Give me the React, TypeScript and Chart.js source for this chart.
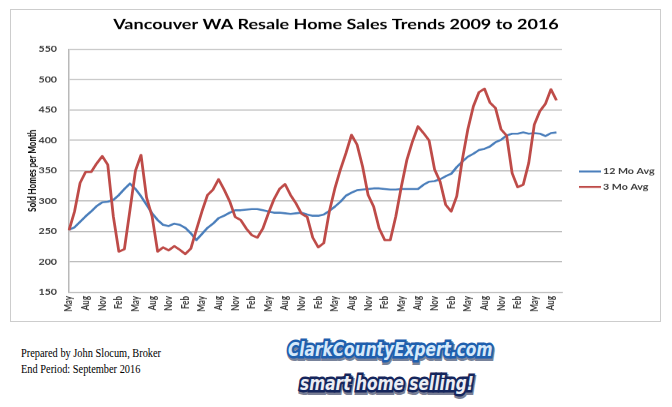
import React, { useEffect, useRef } from 'react';
import { Chart, registerables } from 'chart.js';

Chart.register(...registerables);

// ---------- data ----------
const TITLE = 'Vancouver WA Resale Home Sales Trends 2009 to 2016';
const Y_TITLE = 'Sold Homes per Month';
const MONTHS = ['Jan', 'Feb', 'Mar', 'Apr', 'May', 'Jun', 'Jul', 'Aug', 'Sep', 'Oct', 'Nov', 'Dec'];
const START_YEAR = 2009;
const START_MONTH = 4; // May
const CATEGORY_COUNT = 90; // May 2009 .. Oct 2016 (last slot has no data)
const categories: string[] = Array.from({ length: CATEGORY_COUNT }, (_, i) => {
  const m = (START_MONTH + i) % 12;
  const y = START_YEAR + Math.floor((START_MONTH + i) / 12);
  return `${MONTHS[m]} ${y}`;
});

const avg12Mo: (number | null)[] = [
  253, 257, 266, 275, 283, 292, 298, 299, 302, 310,
  320, 329, 320, 308, 294, 280, 269, 261, 259, 263,
  261, 256, 247, 236, 246, 256, 263, 272, 276, 281,
  285, 285, 286, 287, 287, 285, 283, 281, 281, 280,
  279, 280, 281, 278, 276, 276, 278, 284, 291, 299,
  309, 314, 318, 319, 320, 321, 321, 320, 319, 319,
  320, 320, 320, 320, 327, 332, 333, 336, 341, 345,
  356, 365, 373, 378, 384, 386, 390, 397, 401, 408,
  411, 411, 413, 411, 412, 411, 407, 412, 413, null,
];

const avg3Mo: (number | null)[] = [
  252, 283, 330, 348, 348, 362, 374, 360, 275, 217,
  221, 285, 350, 376, 306, 275, 217, 224, 219, 226,
  220, 213, 222, 253, 283, 310, 319, 336, 319, 300,
  274, 269, 255, 244, 240, 255, 280, 303, 320, 328,
  310, 296, 279, 274, 240, 224, 231, 283, 321, 352,
  379, 409, 393, 357, 310, 291, 255, 236, 236, 275,
  324, 368, 398, 423, 412, 400, 352, 332, 294, 283,
  308, 368, 418, 456, 479, 485, 462, 453, 418, 408,
  346, 323, 327, 363, 426, 448, 460, 484, 466, null,
];

const Y_MIN = 150;
const Y_MAX = 550;
const Y_STEP = 50;

// ---------- style ----------
const BLUE = '#4a7ebb';
const RED = '#be4b48';
const GRID = '#b9b9b9';
const TICK = '#3c3c3c';
const AXIS_FONT = 'Lato';
const SQUISH = 0.75; // the reference is vertically compressed
const CSS_H = 330;
const CANVAS_W = 672;
const CANVAS_H = Math.round(CSS_H / SQUISH);
const PLOT_BOTTOM_PAGE = 292.3;
const X_AXIS_H = CANVAS_H - PLOT_BOTTOM_PAGE / SQUISH;
const PLOT_RIGHT = 562;

const sideLegend = {
  id: 'sideLegend',
  afterDraw(chart: any) {
    const { ctx, chartArea } = chart;
    const cy = (chartArea.top + chartArea.bottom) / 2;
    ctx.save();
    chart.data.datasets.forEach((ds: any, i: number) => {
      const y = cy + 1 + i * 20.6;
      const x = chartArea.right + 17;
      ctx.strokeStyle = ds.borderColor;
      ctx.lineWidth = 2.6;
      ctx.beginPath();
      ctx.moveTo(x, y);
      ctx.lineTo(x + 22, y);
      ctx.stroke();
      ctx.fillStyle = TICK;
      ctx.font = `bold 10.67px ${AXIS_FONT}`;
      ctx.textBaseline = 'middle';
      ctx.textAlign = 'left';
      ctx.fillText(ds.label, x + 24, y);
    });
    ctx.restore();
  },
};

function OutlinedText(props: { text: string; left: number; top: number; fill: string; stroke: string; shadow: string }) {
  const { text, left, top, fill, stroke, shadow } = props;
  const base: React.CSSProperties = {
    position: 'absolute',
    left: 0,
    top: 0,
    whiteSpace: 'nowrap',
    fontFamily: '"DejaVu Sans", sans-serif',
    fontWeight: 'bold',
    fontStyle: 'italic',
    fontSize: 20,
    lineHeight: '20px',
  };
  return (
    <div style={{ position: 'absolute', left, top, transform: 'scaleX(0.77)', transformOrigin: '0 0' }}>
      <span style={{ ...base, left: 1, top: 2, color: shadow, WebkitTextStroke: `6px ${shadow}`, opacity: 0.55 } as any}>{text}</span>
      <span style={{ ...base, color: stroke, WebkitTextStroke: `5px ${stroke}` } as any}>{text}</span>
      <span style={{ ...base, color: fill }}>{text}</span>
    </div>
  );
}

export default function App() {
  const canvasRef = useRef<HTMLCanvasElement | null>(null);

  useEffect(() => {
    const canvas = canvasRef.current;
    if (!canvas) return;
    const tickFont = { family: AXIS_FONT, weight: 'bold' as const, size: 10.67 };
    const chart = new Chart(canvas, {
      type: 'line',
      data: {
        labels: categories,
        datasets: [
          {
            label: '12 Mo Avg',
            data: avg12Mo,
            borderColor: BLUE,
            backgroundColor: BLUE,
            borderWidth: 2.6,
            pointRadius: 0,
            tension: 0,
            borderJoinStyle: 'round',
            order: 1,
          },
          {
            label: '3 Mo Avg',
            data: avg3Mo,
            borderColor: RED,
            backgroundColor: RED,
            borderWidth: 2.8,
            pointRadius: 0,
            tension: 0,
            borderJoinStyle: 'round',
            order: 0,
          },
        ],
      },
      options: {
        responsive: false,
        maintainAspectRatio: false,
        animation: false,
        events: [],
        layout: { padding: { left: 0, right: 0, top: 0, bottom: 0 } },
        plugins: {
          legend: { display: false },
          tooltip: { enabled: false },
          title: {
            display: true,
            text: TITLE,
            color: '#000',
            font: { family: AXIS_FONT, weight: 'bold', size: 18 },
            padding: { top: 22.5, bottom: 21.5 },
          },
        },
        scales: {
          x: {
            type: 'category',
            grid: { display: false, drawTicks: false },
            border: { display: true, color: GRID, width: 1.5 },
            ticks: {
              autoSkip: false,
              maxRotation: 90,
              minRotation: 90,
              padding: 5,
              color: TICK,
              font: tickFont,
              callback: (_v: any, i: number) => (i % 3 === 0 ? categories[i].split(' ')[0] : ''),
            },
            afterFit: (s: any) => {
              s.height = X_AXIS_H;
              s.paddingLeft = 0;
              s.paddingRight = CANVAS_W - PLOT_RIGHT;
            },
          },
          y: {
            min: Y_MIN,
            max: Y_MAX,
            ticks: { stepSize: Y_STEP, padding: 12, color: TICK, font: tickFont },
            grid: { color: GRID, lineWidth: 1.5, drawTicks: false },
            border: { display: true, color: GRID, width: 1.5 },
            title: {
              display: true,
              text: Y_TITLE,
              color: '#000',
              font: tickFont,
              padding: { top: 26.6, bottom: 0 },
            },
            afterFit: (s: any) => {
              s.width = 69;
            },
          },
        },
      },
      plugins: [sideLegend],
    } as any);
    return () => chart.destroy();
  }, []);

  return (
    <div style={{ position: 'absolute', left: 0, top: 0, width: 672, height: 407, background: '#fff', overflow: 'hidden' }}>
      <div
        style={{
          position: 'absolute',
          left: 10,
          top: 9,
          width: 651,
          height: 313,
          border: '1px solid #cdcdcd',
          boxSizing: 'border-box',
        }}
      />
      <canvas
        ref={canvasRef}
        width={CANVAS_W}
        height={CANVAS_H}
        style={{ position: 'absolute', left: 0, top: 0, width: CANVAS_W, height: CSS_H }}
      />
      <div
        style={{
          position: 'absolute',
          left: 21,
          top: 345,
          fontFamily: '"Liberation Serif", "Times New Roman", serif',
          fontSize: 12,
          lineHeight: '16px',
          color: '#000',
          whiteSpace: 'nowrap',
          transform: 'scaleX(0.863)',
          transformOrigin: '0 0',
        }}
      >
        <div>Prepared by John Slocum, Broker</div>
        <div>End Period: September 2016</div>
      </div>
      <OutlinedText text="ClarkCountyExpert.com" left={288} top={339} fill="#d6e9fa" stroke="#1f5fae" shadow="#0b1f4a" />
      <OutlinedText text="smart home selling!" left={300} top={373} fill="#eceef4" stroke="#15265c" shadow="#0b1640" />
    </div>
  );
}
